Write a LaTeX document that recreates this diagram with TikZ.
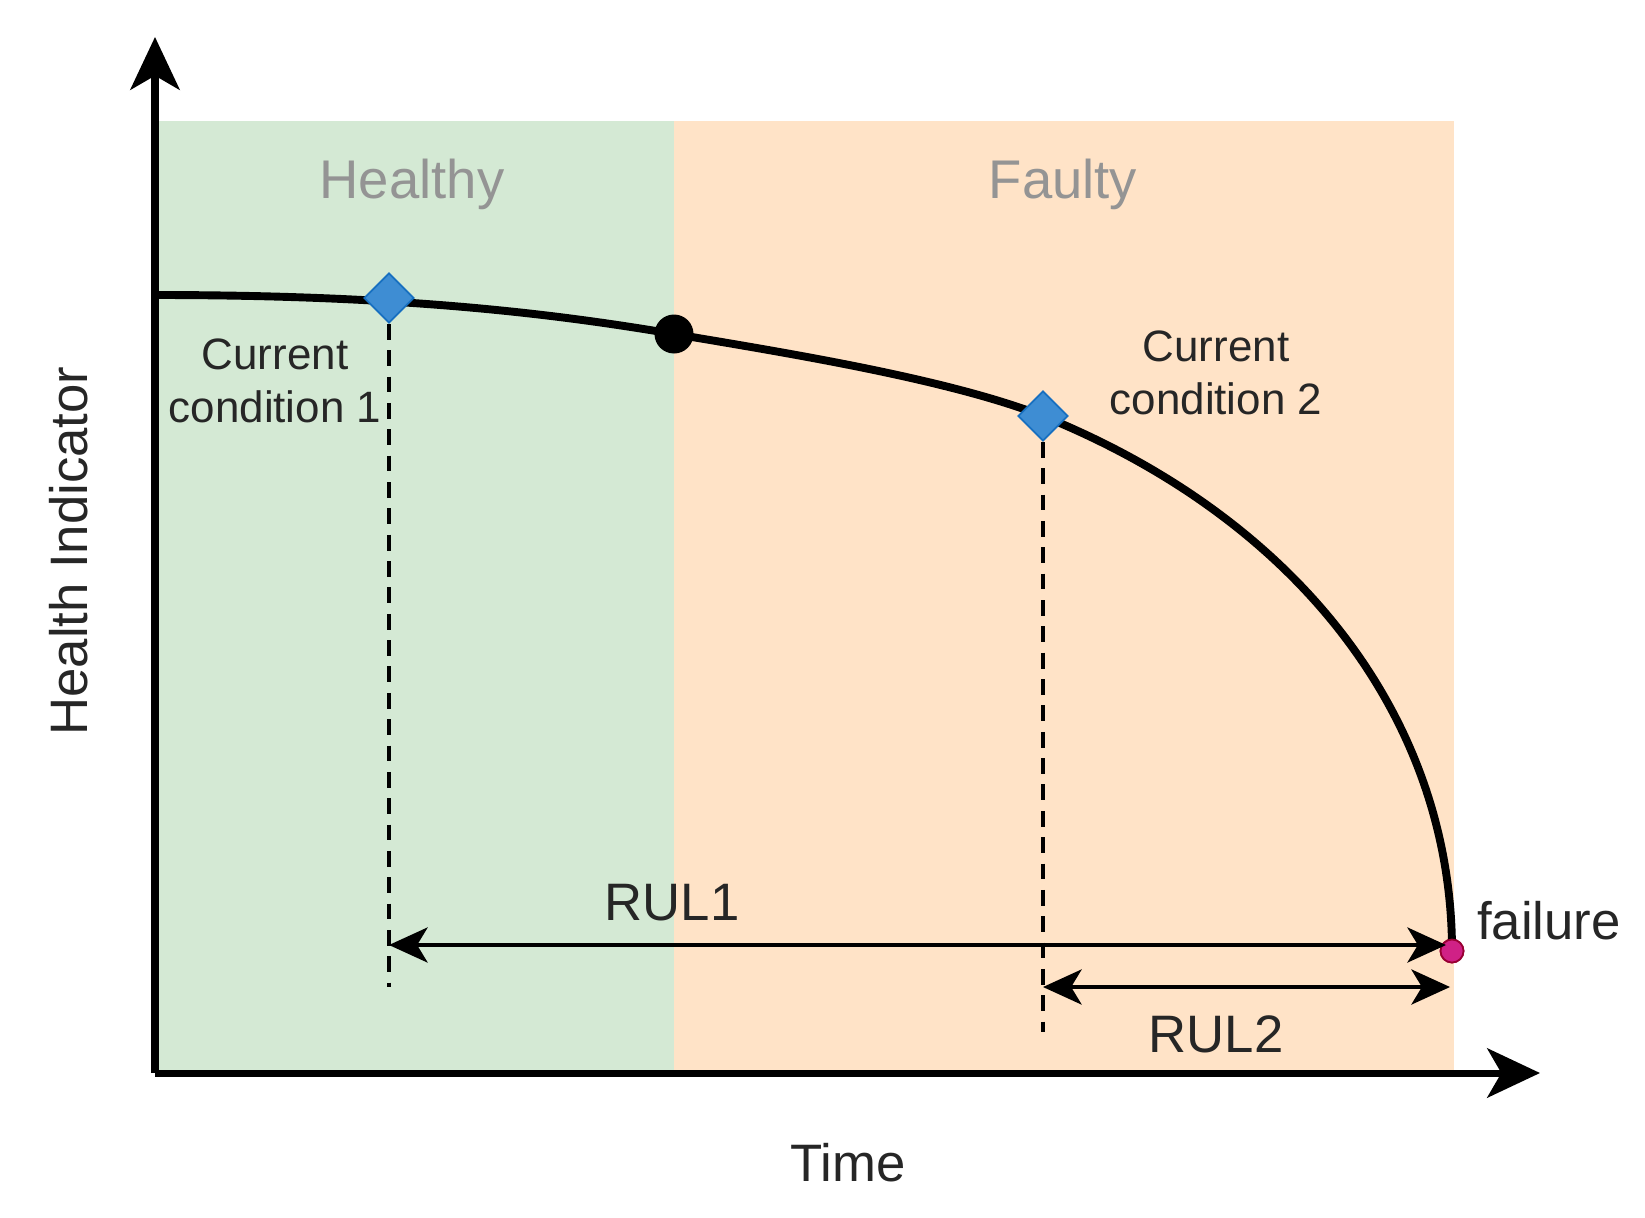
\documentclass[tikz,border=0pt]{standalone}
\usepackage{fontspec}
\setmainfont{Liberation Sans}
\usetikzlibrary{arrows.meta,shapes.geometric}
\begin{document}
\begin{tikzpicture}[x=0.02cm,y=-0.02cm,
  lbl/.style={font=\fontsize{25}{30}\selectfont,align=center,text=black!85},
  big/.style={font=\fontsize{30}{36}\selectfont,text=black!85},
  region/.style={font=\fontsize{31}{38}\selectfont,text=black!42},
  dia/.style={diamond,fill=cyan!60!blue!80,draw=cyan!50!blue,line width=1pt,minimum size=1.0cm,inner sep=0pt},
  dashline/.style={line width=1.8pt,dash pattern=on 9pt off 6pt},
  rul/.style={line width=2pt,{Stealth[length=22pt,width=20pt,inset=6pt]}-{Stealth[length=22pt,width=20pt,inset=6pt]}},
  axis/.style={line width=4pt,-{Stealth[length=30pt,width=28pt,inset=8pt]}}]
\useasboundingbox (0,0) rectangle (1645,1217);
\fill[green!50!black!17!white] (158,121) rectangle (674,1073);
\fill[orange!22!white] (674,121) rectangle (1454,1073);
\node[region] at (412,184) {Healthy};
\node[region] at (1063,184) {Faulty};
\coordinate (o) at (155,1073);
\coordinate (ytop) at (155,37);
\coordinate (xend) at (1540,1073);
\draw[axis] (o) -- (ytop);
\draw[axis] (o) -- (xend);
\coordinate (s) at (155,295);
\node[circle,fill=black,minimum size=0.78cm,inner sep=0pt] (c) at (674,334) {};
\node[circle,fill=magenta!85!black,draw=purple!80!black,line width=1pt,minimum size=0.46cm,inner sep=0pt] (f) at (1452,951) {};
\draw[line width=4.5pt] (s) .. controls (400,295) and (550,313) .. (c.center)
  .. controls (800,355) and (950,380) .. (1043,416)
  .. controls (1300,520) and (1452,720) .. (f.center);
\node[circle,fill=magenta!85!black,draw=purple!80!black,line width=1pt,minimum size=0.46cm,inner sep=0pt] at (f) {};
\node[dia] (d1) at (389,298) {};
\node[dia] (d2) at (1043,416) {};
\coordinate (e1) at (389,987);
\coordinate (e2) at (1043,1032);
\draw[dashline] (d1.south) -- (e1);
\draw[dashline] (d2.south) -- (e2);
\coordinate (r1) at (389,945);
\coordinate (r1e) at (1446,945);
\coordinate (r2) at (1043,987);
\coordinate (r2e) at (1450,987);
\draw[rul] (r1) -- (r1e);
\draw[rul] (r2) -- (r2e);
\node[lbl] at (275,381) {Current\\condition 1};
\node[lbl] at (1216,373) {Current\\condition 2};
\node[big] at (672,903) {RUL1};
\node[big] at (1216,1034) {RUL2};
\node[big] at (1549,921) {failure};
\node[big] at (848,1163) {Time};
\node[big,rotate=90] at (69,551) {Health Indicator};
\end{tikzpicture}
\end{document}
